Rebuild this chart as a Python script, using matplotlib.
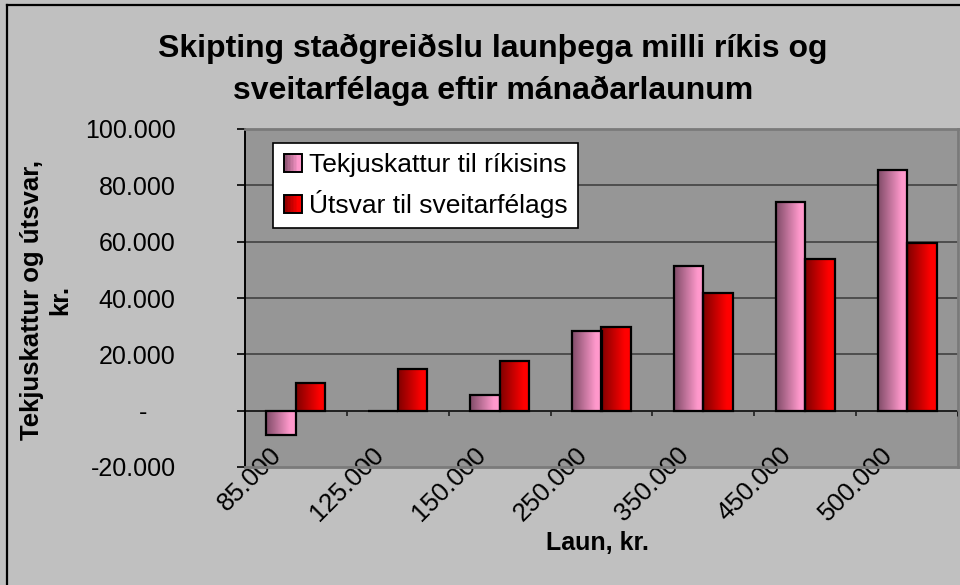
import numpy as np
import matplotlib
matplotlib.use("Agg")
import matplotlib.pyplot as plt
from matplotlib.patches import Rectangle
from matplotlib.legend_handler import HandlerBase
from matplotlib.transforms import ScaledTranslation
from matplotlib.ticker import FixedLocator

plt.rcParams['font.family'] = ['Liberation Sans', 'DejaVu Sans']

# ---------------- data ----------------
categories = ['85.000', '125.000', '150.000', '250.000', '350.000', '450.000', '500.000']
tekjuskattur = [-8800, 0, 5400, 28200, 51500, 74200, 85600]
utsvar = [9700, 14700, 17500, 29600, 41700, 53700, 59400]
series_names = ['Tekjuskattur til ríkisins', 'Útsvar til sveitarfélags']
yticks = [-20000, 0, 20000, 40000, 60000, 80000, 100000]
ytick_labels = ['-20.000', '-    ', '20.000', '40.000', '60.000', '80.000', '100.000']
title_lines = ['Skipting staðgreiðslu launþega milli ríkis og',
               'sveitarfélaga eftir mánaðarlaunum']
ylabel = 'Tekjuskattur og útsvar,\nkr.'
xlabel = 'Laun, kr.'

# colours (dark -> light horizontal gradient)
pink_dark, pink_light = np.array([0x80, 0x4c, 0x68]) / 255, np.array([0xff, 0x99, 0xcc]) / 255
red_dark, red_light = np.array([0x80, 0x00, 0x00]) / 255, np.array([0xff, 0x00, 0x00]) / 255
fig_bg = '#c0c0c0'
plot_bg = '#969696'


def gradient_row(c0, c1, n=64):
    t = np.clip(np.linspace(0, 1, n) / 0.8, 0, 1)
    return (c0[None, :] + (c1 - c0)[None, :] * t[:, None])[None, :, :]


W, H = 960, 585
fig = plt.figure(figsize=(W / 100, H / 100), dpi=100, facecolor=fig_bg)
ax = fig.add_axes([245 / W, 1 - 467 / H, (958 - 245) / W, (467 - 129) / H])
ax.set_facecolor(plot_bg)

x = np.arange(len(categories))
bw = 0.29
groups = [(tekjuskattur, pink_dark, pink_light, -bw / 2),
          (utsvar, red_dark, red_light, bw / 2)]

for vals, c0, c1, off in groups:
    bars = ax.bar(x + off, vals, width=bw, facecolor='none', edgecolor='black',
                  linewidth=1.6, zorder=4)
    grad = gradient_row(c0, c1)
    for b in bars:
        bx, by, bwid, bh = b.get_x(), b.get_y(), b.get_width(), b.get_height()
        if bh == 0:
            continue
        im = ax.imshow(grad, extent=[bx, bx + bwid, by, by + bh], aspect='auto',
                       interpolation='bilinear', zorder=3)
        im.set_clip_path(b)

ax.set_xlim(-0.5, len(categories) - 0.5)
ax.set_ylim(-20000, 100000)

# gridlines
for yv in yticks[2:]:
    ax.axhline(yv, color='#3a3a3a', linewidth=1.1, zorder=1)
ax.axhline(0, color='#202020', linewidth=1.4, zorder=2)
# category separator ticks on zero line
ax.vlines(x[:-1] + 0.5, -2000, 0, color='#202020', linewidth=1.2, zorder=2)
ax.vlines([len(categories) - 0.5], -2000, 0, color='black', linewidth=1.8, zorder=5)

# y axis
ax.yaxis.set_major_locator(FixedLocator(yticks))
ax.set_yticklabels(ytick_labels, fontsize=18)
ax.tick_params(axis='y', direction='out', length=6, width=1.2, pad=44, colors='black')

# x axis
ax.set_xticks(x)
ax.set_xticklabels(categories, fontsize=18.5, rotation=45, ha='right', va='center',
                   rotation_mode='anchor')
ax.tick_params(axis='x', length=0, pad=0)
offset = ScaledTranslation(-0.18, 0.16, fig.dpi_scale_trans)
for lab in ax.get_xticklabels():
    lab.set_transform(lab.get_transform() + offset)

for side in ['top', 'right', 'bottom']:
    ax.spines[side].set_color('#7a7a7a')
    ax.spines[side].set_linewidth(2)
ax.spines['left'].set_color('black')
ax.spines['left'].set_linewidth(1.4)


# legend with gradient squares
class GradHandler(HandlerBase):
    def __init__(self, c0, c1):
        super().__init__()
        self.c0, self.c1 = c0, c1

    def create_artists(self, legend, orig_handle, xdescent, ydescent, width, height,
                       fontsize, trans):
        s = 13.0
        x0 = -xdescent + (width - s) / 2
        y0 = -ydescent + (height - s) / 2
        arts = []
        n = 12
        for i in range(n):
            t = min((i + 0.5) / n / 0.8, 1)
            col = self.c0 + (self.c1 - self.c0) * t
            arts.append(Rectangle((x0 + i * s / n, y0), s / n + 0.05, s, facecolor=col,
                                  edgecolor='none', transform=trans))
        arts.append(Rectangle((x0, y0), s, s, facecolor='none', edgecolor='black',
                              linewidth=1.4, transform=trans))
        return arts


h1 = Rectangle((0, 0), 1, 1)
h2 = Rectangle((0, 0), 1, 1)
leg = ax.legend([h1, h2], series_names, loc='upper left',
                bbox_to_anchor=((273 - 245) / 713, (467 - 143) / 338),
                fontsize=19, frameon=True, fancybox=False, framealpha=1,
                facecolor='white', edgecolor='black', borderpad=0.38,
                labelspacing=0.5, handlelength=0.75, handletextpad=0.25,
                borderaxespad=0,
                handler_map={h1: GradHandler(pink_dark, pink_light),
                             h2: GradHandler(red_dark, red_light)})
leg.get_frame().set_linewidth(1.2)
leg.set_zorder(6)

# titles and labels
fig.text(493 / W, 1 - 57 / H, title_lines[0], ha='center', va='baseline',
         fontsize=23, fontweight='bold')
fig.text(493 / W, 1 - 99 / H, title_lines[1], ha='center', va='baseline',
         fontsize=23, fontweight='bold')
fig.text(46 / W, 1 - 300 / H, ylabel, rotation=90, ha='center', va='center',
         multialignment='center', fontsize=18.5, fontweight='bold', linespacing=1.2)
fig.text(597 / W, 1 - 543 / H, xlabel, ha='center', va='center', fontsize=18,
         fontweight='bold')

# outer chart border
fig.add_artist(plt.Line2D([7 / W, 7 / W], [0, 1 - 5 / H], color='black', linewidth=1.6,
                          transform=fig.transFigure))
fig.add_artist(plt.Line2D([7 / W, 1], [1 - 5 / H, 1 - 5 / H], color='black',
                          linewidth=1.6, transform=fig.transFigure))

fig.savefig('out.png', dpi=100, facecolor=fig_bg)
